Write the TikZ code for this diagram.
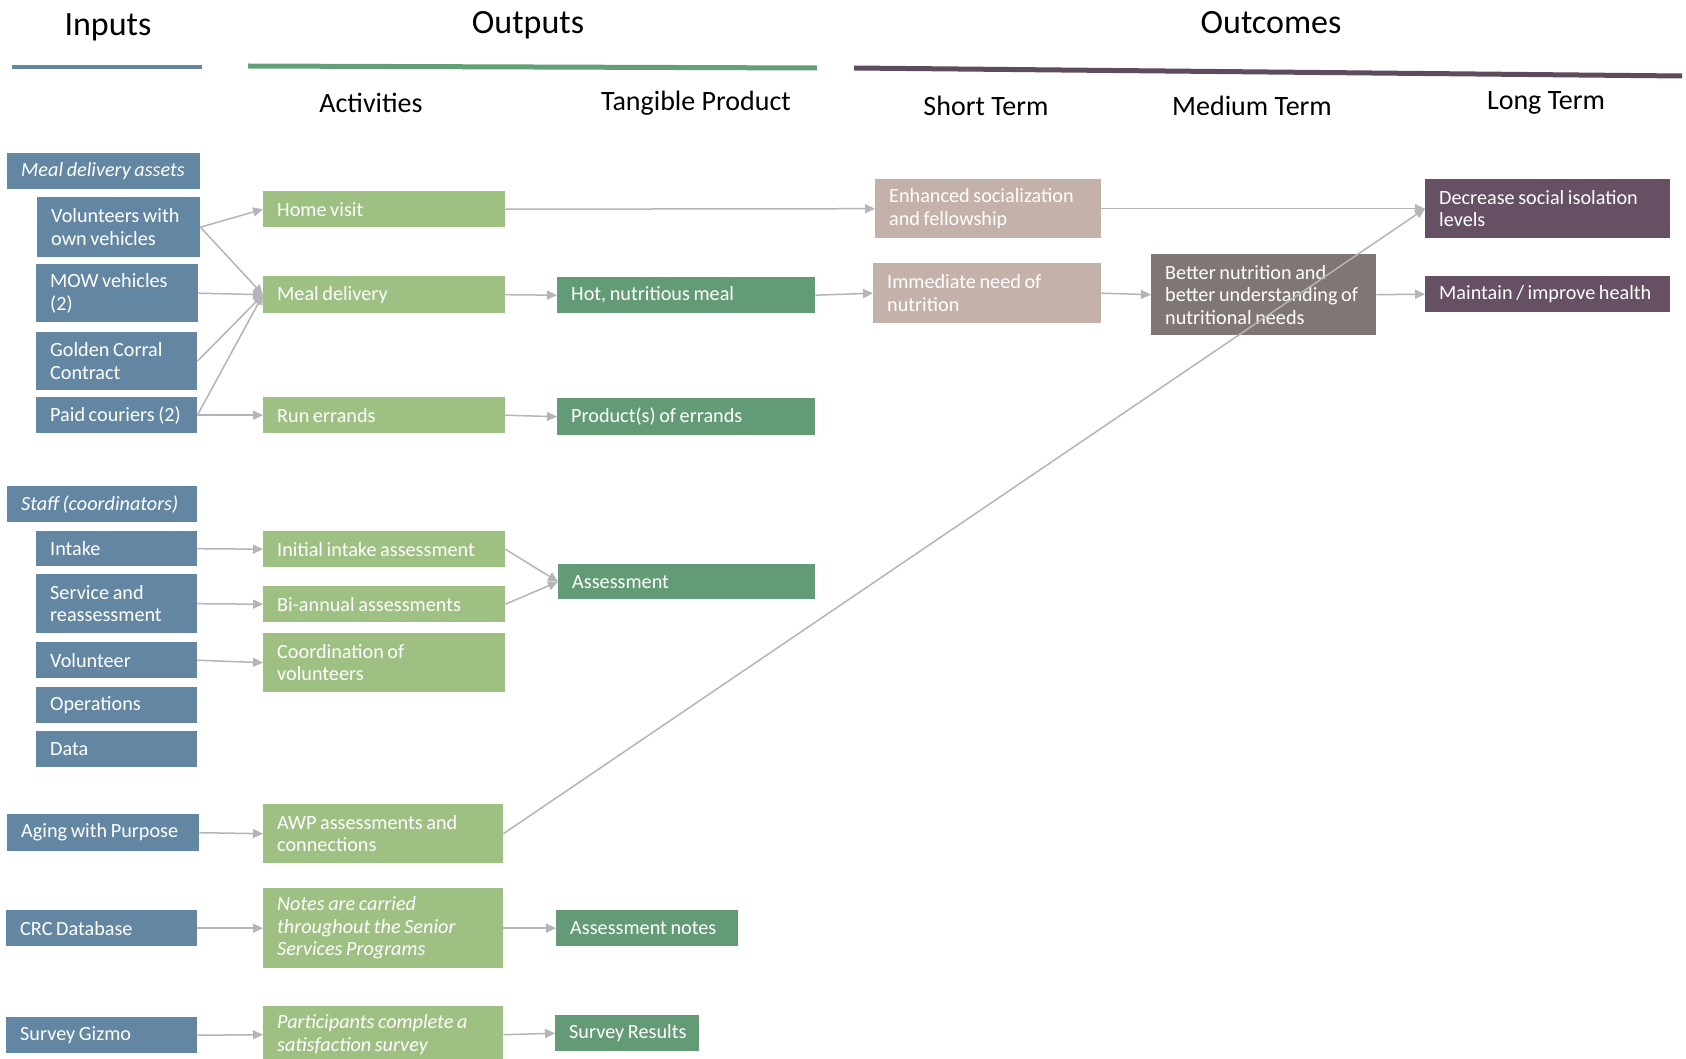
\documentclass[tikz,border=0pt]{standalone}
\usepackage{fontspec}
\setmainfont{Carlito}
\usetikzlibrary{arrows.meta}
\definecolor{inblue}{HTML}{6387A3}
\definecolor{actgreen}{HTML}{9EC083}
\definecolor{tangreen}{HTML}{639B76}
\definecolor{shortc}{HTML}{C4B1AA}
\definecolor{medc}{HTML}{807673}
\definecolor{longc}{HTML}{655064}
\definecolor{arrgray}{HTML}{B4B4B9}
\definecolor{outline}{HTML}{63A078}
\definecolor{ocline}{HTML}{5F4B5E}
\newcommand\boxsetup{\spaceskip=0.18em plus 0.05em\relax\hyphenpenalty=10000\relax\exhyphenpenalty=10000\relax}
\tikzset{
 box/.style={anchor=north west, inner xsep=14pt, inner ysep=2pt, align=left, text=white,
   font=\fontsize{20.2}{22.5}\selectfont, execute at begin node=\boxsetup},
 inp/.style={box, fill=inblue},
 act/.style={box, fill=actgreen},
 tan/.style={box, fill=tangreen},
 sho/.style={box, fill=shortc},
 med/.style={box, fill=medc},
 lon/.style={box, fill=longc},
 conn/.style={draw=arrgray, line width=1.5pt, -{Triangle[length=10pt,width=9pt]}},
 hdr/.style={font=\fontsize{34}{40}\selectfont, text=black},
 subhdr/.style={font=\fontsize{28}{32}\selectfont, text=black},
}
\newcommand\bx[7]{%
 \pgfmathsetmacro\bxw{#4-#2}\pgfmathsetmacro\bxh{#5-#3}\pgfmathsetmacro\bxt{#4-#2-28}%
 \node[#6, minimum width=\bxw pt, minimum height=\bxh pt, text width=\bxt pt] (#1) at (#2,#3) {#7};}
\begin{document}
\begin{tikzpicture}[x=1pt,y=-1pt]
\useasboundingbox (0,0) rectangle (1686,1059);
\clip (0,0) rectangle (1686,1059);
\fill[white] (0,0) rectangle (1686,1059);
% headers
\node[hdr] (hin) at (108,27) {Inputs};
\node[hdr] (hout) at (528,25) {Outputs};
\node[hdr] (hoc) at (1271,23) {Outcomes};
\draw[line width=4pt, inblue] (12,67) -- (202,67);
\draw[line width=5pt, outline] (248,66) -- (817,68);
\draw[line width=5pt, ocline] (854,68) -- (1682,76);
\node[subhdr] (sact) at (371,103) {Activities};
\node[subhdr] (stan) at (696,103) {Tangible Product};
\node[subhdr] (sst) at (986,106) {Short Term};
\node[subhdr] (smt) at (1252,106) {Medium Term};
\node[subhdr] (slt) at (1546,103) {Long Term};
% inputs
\bx{mda}{7}{153}{200}{189}{inp}{\itshape Meal~delivery~assets}
\bx{vol}{37}{197}{200}{257}{inp}{Volunteers~with\\own~vehicles}
\bx{mow}{36}{264}{198}{322}{inp}{MOW~vehicles\\(2)}
\bx{gcc}{36}{332}{197}{390}{inp}{Golden~Corral\\Contract}
\bx{pc}{36}{397}{197}{433}{inp}{Paid~couriers~(2)}
\bx{staff}{7}{486}{197}{522}{inp}{\itshape Staff~(coordinators)}
\bx{intake}{36}{531}{197}{566}{inp}{Intake}
\bx{serv}{36}{574}{197}{633}{inp}{Service~and\\reassessment}
\bx{volu}{36}{642}{197}{678}{inp}{Volunteer}
\bx{ops}{36}{687}{197}{723}{inp}{Operations}
\bx{data}{36}{731}{197}{767}{inp}{Data}
\bx{aging}{7}{814}{199}{851}{inp}{Aging~with~Purpose}
\bx{crc}{6}{910}{197}{946}{inp}{CRC~Database}
\bx{gizmo}{6}{1017}{197}{1053}{inp}{Survey~Gizmo}
% activities
\bx{home}{263}{191}{505}{227}{act}{Home~visit}
\bx{meal}{263}{276}{505}{313}{act}{Meal~delivery}
\bx{err}{263}{397}{505}{433}{act}{Run~errands}
\bx{init}{263}{531}{505}{567}{act}{Initial~intake~assessment}
\bx{bian}{263}{586}{505}{622}{act}{Bi-annual~assessments}
\bx{coord}{263}{633}{505}{692}{act}{Coordination~of\\volunteers}
\bx{awp}{263}{804}{503}{863}{act}{AWP~assessments~and\\connections}
\bx{notes}{263}{888}{503}{968}{act}{\itshape Notes~are~carried\\throughout~the~Senior\\Services~Programs}
\bx{part}{263}{1006}{503}{1063}{act}{\itshape Participants~complete~a\\satisfaction~survey}
% tangible
\bx{hot}{557}{277}{815}{313}{tan}{Hot,~nutritious~meal}
\bx{prod}{557}{398}{815}{435}{tan}{Product(s)~of~errands}
\bx{assess}{558}{564}{815}{599}{tan}{Assessment}
\bx{anotes}{556}{910}{738}{946}{tan}{Assessment~notes}
\bx{sres}{555}{1015}{699}{1051}{tan}{Survey~Results}
% outcomes
\bx{enh}{875}{179}{1101}{238}{sho}{Enhanced~socialization\\and~fellowship}
\bx{imm}{873}{263}{1101}{323}{sho}{Immediate~need~of\\nutrition}
\bx{better}{1151}{254}{1376}{335}{med}{Better~nutrition~and\\better~understanding~of\\nutritional~needs}
\bx{dec}{1425}{179}{1670}{238}{lon}{Decrease~social~isolation\\levels}
\bx{maint}{1425}{276}{1670}{312}{lon}{Maintain~/~improve~health}
% connectors
\draw[conn] (vol.east) -- (home.west);
\draw[conn] (vol.east) -- (meal.west);
\draw[conn] (mow.east) -- (meal.west);
\draw[conn] (gcc.east) -- (meal.west);
\draw[conn] (pc.east) -- (meal.west);
\draw[conn] (pc.east) -- (err.west);
\draw[conn] (home.east) -- (enh.west);
\draw[conn] (meal.east) -- (hot.west);
\draw[conn] (hot.east) -- (imm.west);
\draw[conn] (err.east) -- (prod.west);
\draw[conn] (enh.east) -- (dec.west);
\draw[conn] (imm.east) -- (better.west);
\draw[conn] (better.east) -- (maint.west);
\draw[conn] (intake.east) -- (init.west);
\draw[conn] (serv.east) -- (bian.west);
\draw[conn] (volu.east) -- (coord.west);
\draw[conn] (init.east) -- (assess.west);
\draw[conn] (bian.east) -- (assess.west);
\draw[conn] (aging.east) -- (awp.west);
\draw[conn] (awp.east) -- (dec.west);
\draw[conn] (crc.east) -- (notes.west);
\draw[conn] (notes.east) -- (anotes.west);
\draw[conn] (gizmo.east) -- (part.west);
\draw[conn] (part.east) -- (sres.west);
\end{tikzpicture}
\end{document}
